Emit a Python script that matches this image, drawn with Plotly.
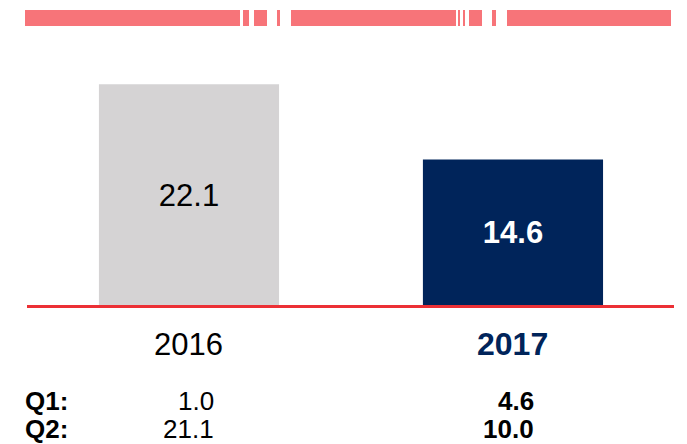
import plotly.graph_objects as go

# ---- data ----
years = ["2016", "2017"]
totals = [22.1, 14.6]
q1_values = [1.0, 4.6]
q2_values = [21.1, 10.0]
row_labels = ["Q1:", "Q2:"]

W, H = 687, 444
ML, MR, MT, MB = 27, 13, 40, 138
PW, PH = W - ML - MR, H - MT - MB

bar_colors = ["#d5d3d4", "#00245a"]
text_colors = ["#000000", "#ffffff"]
FONT = "Liberation Sans, Arial, sans-serif"

fig = go.Figure()
fig.add_trace(go.Bar(
    x=[0, 1], y=totals,
    width=0.556,
    marker=dict(color=bar_colors, line=dict(width=0)),
    text=[f"{v:.1f}" if i == 0 else f"<b>{v:.1f}</b>" for i, v in enumerate(totals)],
    textposition="inside", insidetextanchor="middle",
    textfont=dict(family=FONT, size=[31, 31], color=text_colors),
    textangle=0,
    hoverinfo="skip",
))


def px_to_paper_x(px):
    return (px - ML) / PW


def px_to_paper_y(py):
    return (H - MB - py) / PH


shapes = []
# decorative header strip
header_segments = [(25, 240), (243, 249), (254, 267), (277, 280), (291, 456),
                   (458, 460), (463, 465), (469, 482), (492, 496), (507, 671)]
for a, b in header_segments:
    shapes.append(dict(type="rect", xref="paper", yref="paper",
                       x0=px_to_paper_x(a), x1=px_to_paper_x(b),
                       y0=px_to_paper_y(26), y1=px_to_paper_y(10),
                       fillcolor="#f77479", line=dict(width=0), layer="above"))
# baseline
shapes.append(dict(type="line", xref="paper", yref="paper", x0=0, x1=1,
                   y0=px_to_paper_y(306.5), y1=px_to_paper_y(306.5),
                   line=dict(color="#ec3035", width=3), layer="above"))

annotations = []
for i, yr in enumerate(years):
    if i == 1:
        txt, col, sz = f"<b>{yr}</b>", "#00245a", 32
    else:
        txt, col, sz = yr, "#000000", 31
    annotations.append(dict(x=i, y=px_to_paper_y(344), xref="x", yref="paper",
                            text=txt, showarrow=False, xanchor="center", yanchor="middle",
                            font=dict(family=FONT, size=sz, color=col)))

row_y = [401, 429]
for r, (lab, vals) in enumerate(zip(row_labels, [q1_values, q2_values])):
    annotations.append(dict(x=px_to_paper_x(24), y=px_to_paper_y(row_y[r]), xref="paper", yref="paper",
                            text=f"<b>{lab}</b>", showarrow=False, xanchor="left", yanchor="middle",
                            borderpad=0,
                            font=dict(family=FONT, size=26, color="#000000")))
    for i, v in enumerate(vals):
        txt = f"{v:.1f}" if i == 0 else f"<b>{v:.1f}</b>"
        annotations.append(dict(x=i, y=px_to_paper_y(row_y[r]), xref="x", yref="paper",
                                text=txt, showarrow=False, xanchor="right", yanchor="middle",
                                xshift=[26, 22][i], borderpad=0,
                                font=dict(family=FONT, size=26, color="#000000")))

fig.update_layout(
    width=W, height=H,
    margin=dict(l=ML, r=MR, t=MT, b=MB, pad=0),
    paper_bgcolor="white", plot_bgcolor="white",
    showlegend=False,
    xaxis=dict(range=[-0.5, 1.497], showticklabels=False, showgrid=False,
               zeroline=False, showline=False, ticks="", fixedrange=True),
    yaxis=dict(range=[0, PH / 10.03], showticklabels=False, showgrid=False,
               zeroline=False, showline=False, ticks="", fixedrange=True),
    shapes=shapes,
    annotations=annotations,
    uniformtext=dict(mode=False),
)

fig.write_html("out.html", config={"displayModeBar": False},
               post_script="document.body.style.margin='0';document.body.style.overflow='hidden';")
